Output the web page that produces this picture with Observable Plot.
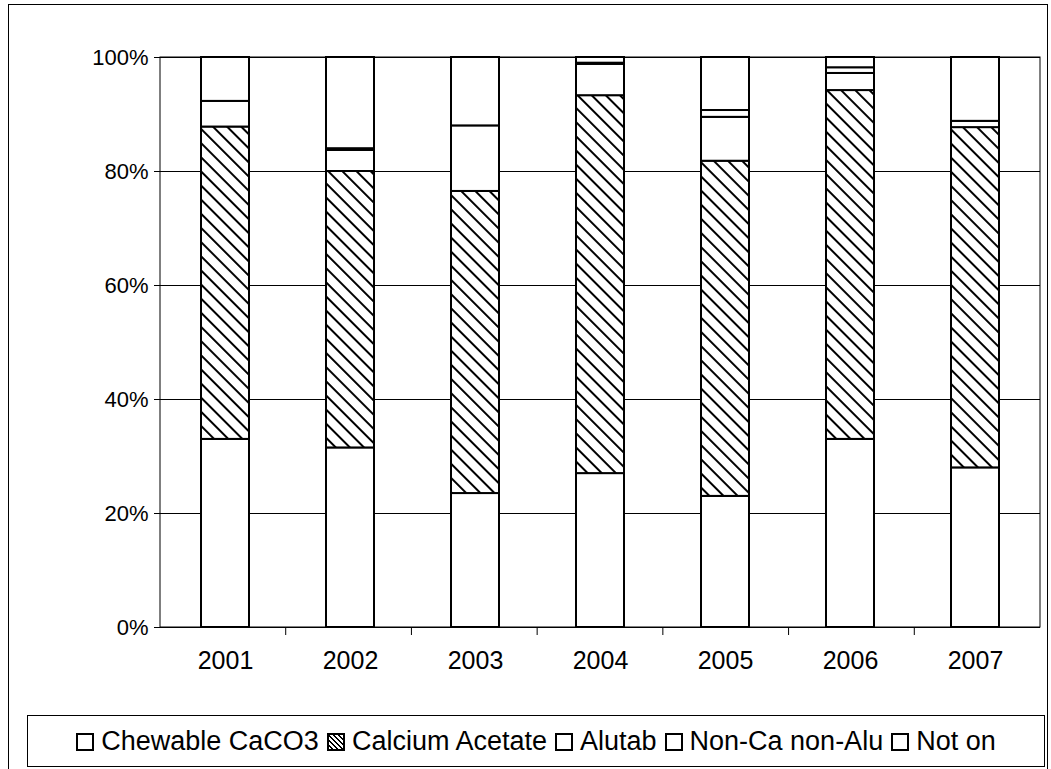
<!DOCTYPE html>
<html><head><meta charset="utf-8">
<script src="https://cdn.jsdelivr.net/npm/d3@7"></script>
<script src="https://cdn.jsdelivr.net/npm/@observablehq/plot@0.6"></script>
<style>
body{margin:0;background:#fff;font-family:"Liberation Sans",Arial,sans-serif;width:1051px;height:769px;position:relative;overflow:hidden}
#frame{position:absolute;left:8px;top:4px;width:1040px;height:780px;border:1px solid #000;box-sizing:border-box}
#chart{position:absolute;left:0;top:0;width:1051px}
#chart svg{max-width:none}
#legend{position:absolute;left:27px;top:715px;width:1018px;height:52px;border:1px solid #000;box-sizing:border-box;font-size:27px;display:flex;align-items:center;justify-content:center;gap:8px;white-space:nowrap}
.sw{display:inline-block;width:14px;height:14px;border:2px solid #000;margin-right:7px;vertical-align:middle}
</style></head><body>
<div id="frame"></div><div id="chart"></div><div id="legend"></div>
<script>
const years = ["2001","2002","2003","2004","2005","2006","2007"];
const series = ["Chewable CaCO3","Calcium Acetate","Alutab","Non-Ca non-Alu","Not on"];
const chewable = [33, 31.5, 23.5, 27, 23, 33, 28];
const acetate  = [54.8, 48.5, 53, 66.3, 58.8, 61.2, 59.7];
const alutab   = [4.5, 3.7, 11.5, 5.5, 7.7, 3, 1.1];
const nonCa    = [0, 0.3, 0, 0.2, 1.2, 1, 0];
const notOn    = [7.7, 16, 12, 1, 9.3, 1.8, 11.2];
const arrs = [chewable, acetate, alutab, nonCa, notOn];
const data = [];
years.forEach((y,i)=>series.forEach((s,j)=>data.push({year:y, series:s, value:arrs[j][i]/100, hatch:j===1})));
const plot = Plot.plot({
  width:1051, height:700, marginLeft:160, marginRight:11, marginTop:57, marginBottom:73,
  style:{fontFamily:"Liberation Sans, Arial, sans-serif", fontSize:"22px", color:"#000", overflow:"visible"},
  x:{domain:years, paddingInner:0.62, paddingOuter:0.31, label:null, tickSize:0, tickPadding:24},
  y:{domain:[0,1], ticks:[0,.2,.4,.6,.8,1], tickFormat:d=>Math.round(d*100)+"%", label:null, tickSize:6, tickPadding:6},
  marks:[
    Plot.ruleY([0.2,0.4,0.6,0.8,1], {stroke:"#000", strokeWidth:1}),
    Plot.barY(data, {x:"year", y:"value", order:series, z:"series", fill:d=>d.hatch?"url(#hatch)":"white", stroke:"#000", strokeWidth:2}),
    Plot.ruleY([0], {stroke:"#000", strokeWidth:1})
  ]
});
const svg = d3.select(plot);
svg.selectAll("g[aria-label='x-axis tick label'] text").style("font-size","25px");
svg.insert("defs",":first-child").html('<pattern id="hatch" patternUnits="userSpaceOnUse" width="10" height="10" patternTransform="rotate(-45)"><rect width="10" height="10" fill="#fff"/><line x1="0" y1="0" x2="0" y2="10" stroke="#000" stroke-width="4"/></pattern>');
const ys = plot.scale("y");
const y0 = ys.apply(0), y1 = ys.apply(1);
svg.append("rect").attr("x",160).attr("y",y1).attr("width",1051-11-160).attr("height",y0-y1).attr("fill","none").attr("stroke","#000");
const bandW = (1051-11-160)/years.length;
for(let k=1;k<years.length;k++){svg.append("line").attr("x1",160+k*bandW).attr("x2",160+k*bandW).attr("y1",y0).attr("y2",y0+8).attr("stroke","#000");}
document.getElementById("chart").appendChild(plot);
const lg = document.getElementById("legend");
series.forEach(s=>{const sp=document.createElement("span");
 sp.innerHTML=`<span class="sw" style="background:${s==="Calcium Acetate"?"repeating-linear-gradient(45deg,#fff 0 2px,#000 2px 3.5px)":"#fff"}"></span>${s}`;lg.appendChild(sp);});
</script></body></html>
